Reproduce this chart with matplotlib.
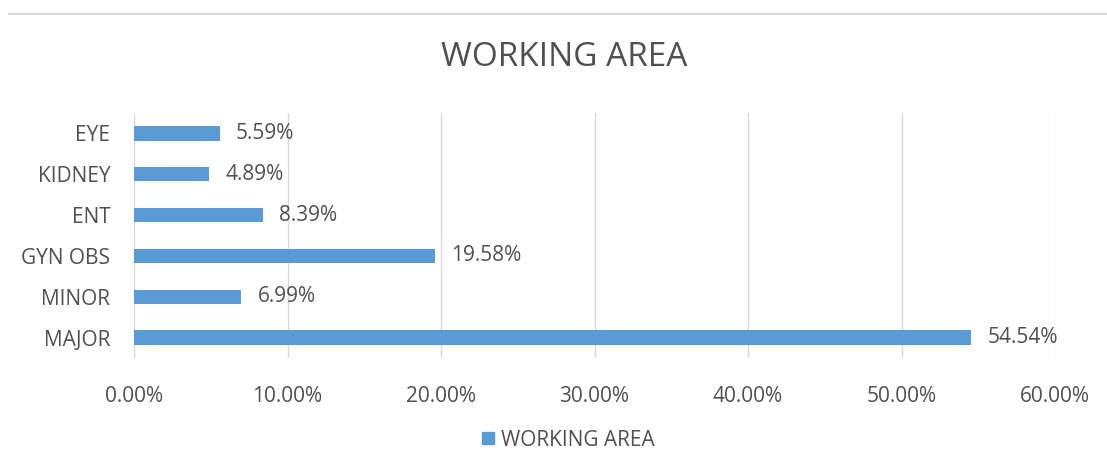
import matplotlib
matplotlib.use("Agg")
import matplotlib.pyplot as plt
from matplotlib.lines import Line2D
from matplotlib.ticker import FuncFormatter

categories = ["MAJOR", "MINOR", "GYN OBS", "ENT", "KIDNEY", "EYE"]
values = [54.54, 6.99, 19.58, 8.39, 4.89, 5.59]
xticks = [0, 10, 20, 30, 40, 50, 60]

bar_color = "#5B9BD5"
text_color = "#505050"
grid_color = "#D9D9D9"

plt.rcParams["font.family"] = ["Open Sans", "DejaVu Sans"]

W, H = 1107, 472
fig = plt.figure(figsize=(W / 100, H / 100), dpi=100)
ax = fig.add_axes([134 / W, 1 - 358 / H, (1055 - 134) / W, (358 - 113) / H])

y = range(len(categories))
ax.barh(y, values, height=0.35, color=bar_color, zorder=3)
for yi, v in zip(y, values):
    ax.text(v + 1.05, yi, f"{v:.2f}%", va="center", ha="left",
            fontsize=15, color=text_color)

ax.set_xlim(0, 60)
ax.set_ylim(-0.5, len(categories) - 0.5)
ax.set_xticks(xticks)
ax.xaxis.set_major_formatter(FuncFormatter(lambda x, p: f"{x:.2f}%"))
ax.set_yticks(list(y))
ax.set_yticklabels(categories)
ax.tick_params(axis="both", length=0, labelsize=15, labelcolor=text_color)
ax.tick_params(axis="x", pad=20)
ax.tick_params(axis="y", pad=17)
ax.grid(axis="x", color=grid_color, lw=1, zorder=0)
for s in ax.spines.values():
    s.set_visible(False)

fig.text(564 / W, 1 - 58 / H, "WORKING AREA", ha="center", va="center",
         fontsize=24, color=text_color)

# thin line across the top of the chart frame
fig.add_artist(Line2D([9 / W, 1.0], [1 - 14 / H, 1 - 14 / H], color="#D9D9D9", lw=1.5))

handle = Line2D([], [], marker="s", color=bar_color, linestyle="none", markersize=9)
fig.legend([handle], ["WORKING AREA"], loc="center", bbox_to_anchor=(566 / W, 1 - 440 / H),
           frameon=False, fontsize=15, labelcolor=text_color,
           handletextpad=0.1, handlelength=1.0)

fig.savefig("out.png", dpi=100)
